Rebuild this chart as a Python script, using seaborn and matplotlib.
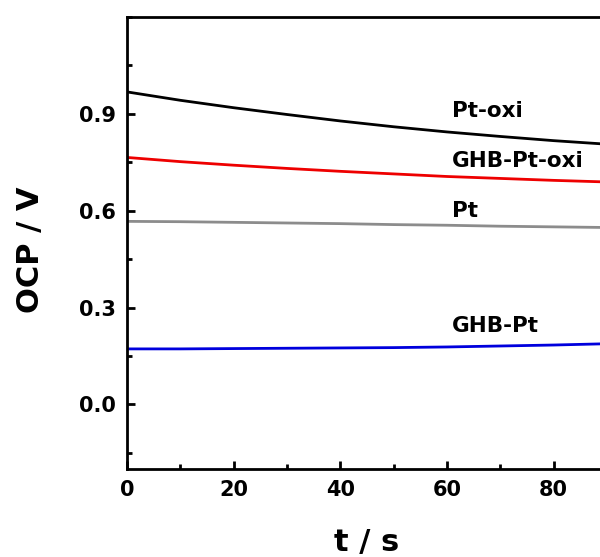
import numpy as np
import pandas as pd
import matplotlib
matplotlib.use("Agg")
import matplotlib.pyplot as plt
from matplotlib.ticker import MultipleLocator, FormatStrFormatter
import seaborn as sns

# Open-circuit potential transients for the four electrodes
time_s = [0, 10, 20, 30, 40, 50, 60, 70, 80, 90]
ocp_pt_oxi = [0.968, 0.942, 0.919, 0.898, 0.878, 0.860, 0.844, 0.830, 0.817, 0.806]
ocp_ghb_pt_oxi = [0.765, 0.752, 0.741, 0.731, 0.722, 0.714, 0.706, 0.700, 0.694, 0.689]
ocp_pt = [0.567, 0.566, 0.564, 0.562, 0.560, 0.557, 0.555, 0.552, 0.550, 0.548]
ocp_ghb_pt = [0.172, 0.172, 0.173, 0.174, 0.175, 0.176, 0.178, 0.181, 0.184, 0.188]

series_names = ["Pt-oxi", "GHB-Pt-oxi", "Pt", "GHB-Pt"]
series_colors = ["#000000", "#ee0000", "#8c8c8c", "#0000dd"]
label_t = [61, 61, 61, 61]
label_y = [0.889, 0.734, 0.580, 0.223]

frames = []
for name, vals in zip(series_names, [ocp_pt_oxi, ocp_ghb_pt_oxi, ocp_pt, ocp_ghb_pt]):
    frames.append(pd.DataFrame({"t": time_s, "ocp": vals, "electrode": name}))
df = pd.concat(frames, ignore_index=True)

sns.set_style("ticks")
plt.rcParams["font.family"] = ["DejaVu Sans"]
plt.rcParams["font.weight"] = "bold"
plt.rcParams["text.color"] = "black"
plt.rcParams["axes.labelcolor"] = "black"

fig = plt.figure(figsize=(6.0, 5.57), dpi=100)
ax = fig.add_axes([127 / 600, 1 - 469 / 557, 480 / 600, (469 - 17) / 557])

sns.lineplot(data=df, x="t", y="ocp", hue="electrode", hue_order=series_names,
             palette=dict(zip(series_names, series_colors)), linewidth=2.0,
             legend=False, ax=ax)

for name, tx, ty in zip(series_names, label_t, label_y):
    ax.text(tx, ty, name, fontsize=15.5, fontweight="bold", ha="left",
            va="baseline", color="black")

ax.set_xlim(0, 90)
ax.set_ylim(-0.2, 1.2)
ax.set_xticks([0, 20, 40, 60, 80])
ax.set_yticks([0.0, 0.3, 0.6, 0.9])
ax.xaxis.set_minor_locator(MultipleLocator(10))
ax.yaxis.set_minor_locator(MultipleLocator(0.15))
ax.yaxis.set_major_formatter(FormatStrFormatter("%.1f"))

for side in ["left", "bottom", "top", "right"]:
    ax.spines[side].set_linewidth(2.0)
    ax.spines[side].set_color("black")

ax.tick_params(which="major", direction="in", length=6, width=2.0,
               labelsize=15, pad=8, colors="black")
ax.tick_params(which="minor", direction="in", length=3.5, width=2.0, colors="black")
for lbl in ax.get_xticklabels() + ax.get_yticklabels():
    lbl.set_fontweight("bold")

ax.set_xlabel("t / s", fontsize=22, fontweight="bold", color="black")
ax.set_ylabel("OCP / V", fontsize=22, fontweight="bold", color="black")
ax.xaxis.set_label_coords((367 - 127) / 480, -(542 - 469) / 452)
ax.yaxis.set_label_coords(-(127 - 30) / 480, (469 - 250) / 452)
ax.xaxis.label.set_va("center")
ax.yaxis.label.set_va("center")

fig.savefig("out.png", dpi=100, facecolor="white")
